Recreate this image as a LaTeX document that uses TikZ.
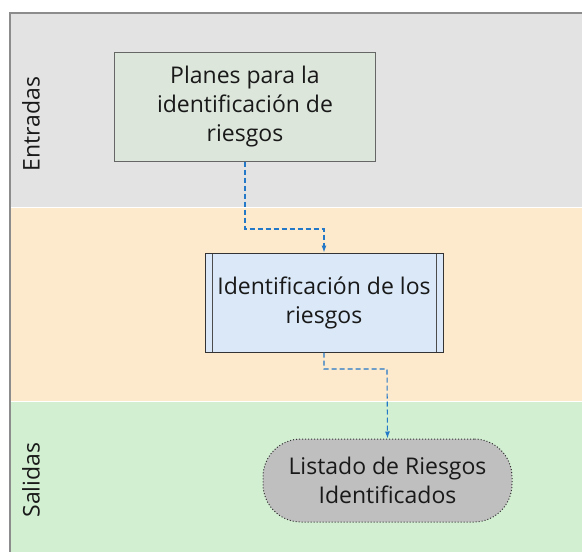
\documentclass[tikz,border=0pt]{standalone}
\usepackage{fontspec}
\setmainfont{Open Sans}
\usepackage{tikz}
\usetikzlibrary{arrows.meta,positioning}
\definecolor{lanegray}{HTML}{E3E3E3}
\definecolor{laneorange}{HTML}{FDE9CB}
\definecolor{lanegreen}{HTML}{D2EFD2}
\definecolor{frame}{HTML}{8C8C8C}
\definecolor{inbox}{HTML}{DCE6DB}
\definecolor{procbox}{HTML}{DAE8F8}
\definecolor{outbox}{HTML}{BFBFBF}
\definecolor{link}{HTML}{2478C8}

\begin{document}
\begin{tikzpicture}[
    x=1pt,y=-1pt,
    txt/.style={font=\fontsize{23}{29}\selectfont,align=center,text=black!90},
    lanelabel/.style={txt,rotate=90},
    inputbox/.style={txt,draw=black!60,fill=inbox,line width=1pt,minimum width=261pt,minimum height=109pt,inner sep=0pt},
    procstep/.style={txt,draw=black!80,fill=procbox,line width=1pt,minimum width=238pt,minimum height=99pt,inner sep=0pt,
      path picture={\draw[black!70,line width=1pt]
        ([xshift=7pt]path picture bounding box.north west) -- ([xshift=7pt]path picture bounding box.south west)
        ([xshift=-7pt]path picture bounding box.north east) -- ([xshift=-7pt]path picture bounding box.south east);}},
    outterm/.style={txt,draw=black!80,fill=outbox,line width=1pt,dotted,rounded corners=38pt,minimum width=249pt,minimum height=83pt,inner sep=0pt},
    flow/.style={draw=link,line width=1.1pt,dash pattern=on 5pt off 3pt,-{Latex[length=7pt,width=5pt]}}
  ]
    \useasboundingbox (0,0) rectangle (582,552);
    % lanes
    \fill[white] (0,0) rectangle (582,552);
    \fill[lanegray] (10,13) rectangle (582,207);
    \fill[laneorange] (10,207) rectangle (582,401);
    \fill[lanegreen] (10,401) rectangle (582,552);
    \draw[white,line width=1pt] (10,207) -- (582,207) (10,401) -- (582,401);
    \draw[frame,line width=2pt] (10,552) -- (10,13) -- (582,13);
    \node[lanelabel] (entradas) at (31,124) {Entradas};
    \node[lanelabel] (salidas) at (31,480) {Salidas};
    % shapes
    \node[inputbox] (planes) at (245,106.5) {Planes para la\\identificación de\\riesgos};
    \node[procstep] (ident) at (324,302.5) {Identificación de los\\riesgos};
    \node[outterm] (listado) at (387.5,480.5) {Listado de Riesgos\\Identificados};
    % links
    \coordinate (k1) at (324,229);
    \coordinate (k2) at (387,369);
    \draw[flow] (planes.south) |- (k1) -- (ident.north);
    \draw[flow] (ident.south) |- (k2) -- (listado.north);
  \end{tikzpicture}
\end{document}
